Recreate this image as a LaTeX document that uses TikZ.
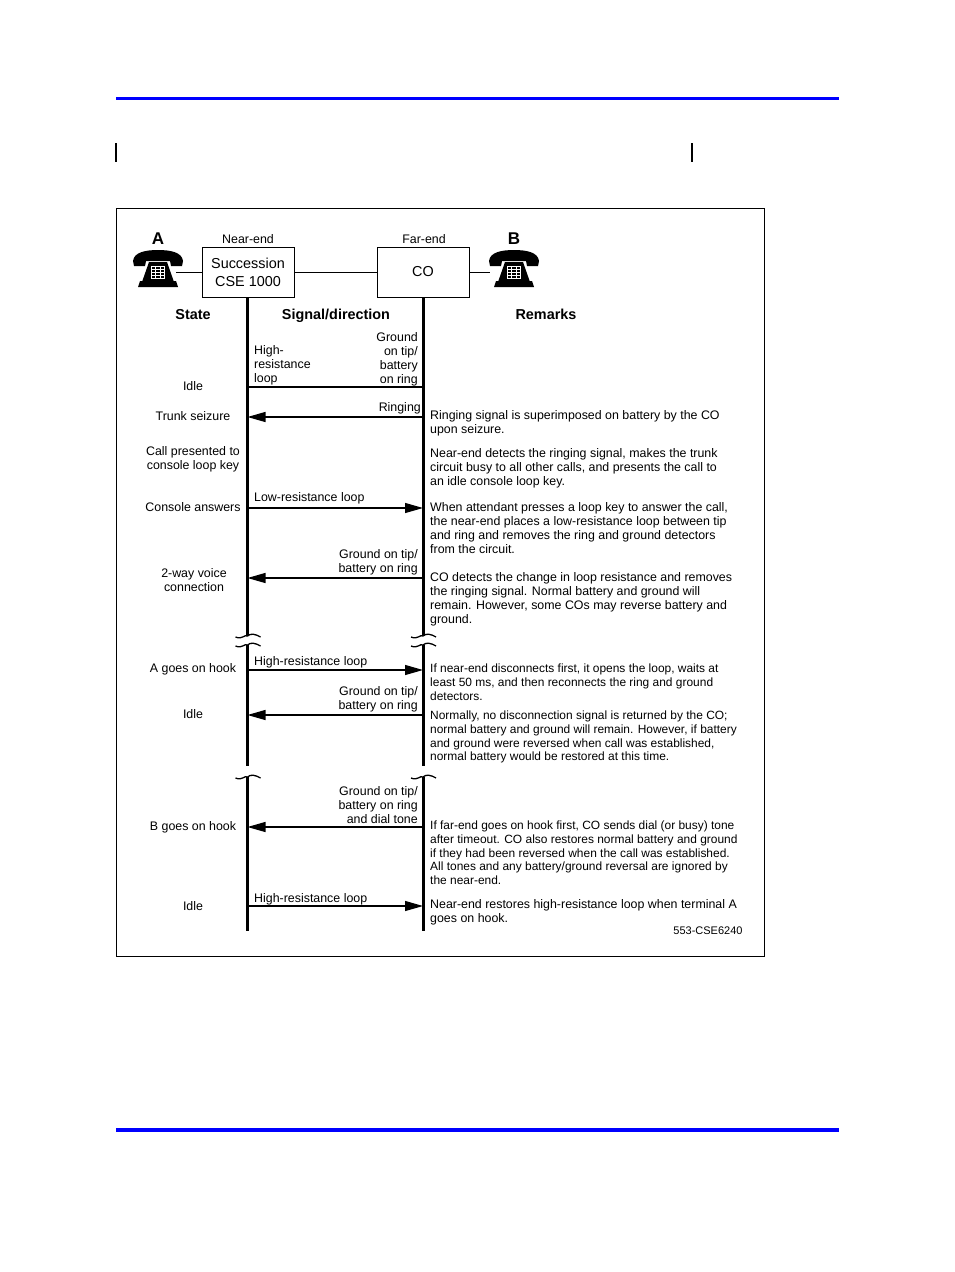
\documentclass[tikz,border=0pt]{standalone}
\usepackage{fontspec}
\setmainfont{Liberation Sans}
\usetikzlibrary{arrows.meta}
\usetikzlibrary{calc}
\usetikzlibrary{positioning}

\tikzset{
sigline/.style={line width=1.2pt, -{Triangle[length=18pt, width=10pt]}},
lifeline/.style={line width=3pt},
boxnode/.style={draw=black, line width=1pt, minimum width=92pt, minimum height=50pt, align=center, inner sep=0, font=\fontsize{14.4}{18}\selectfont},
txt/.style={align=left, inner sep=0, anchor=north west, yshift=-1.8pt, font=\fontsize{12.4}{13.72}\selectfont},
txtn/.style={txt, font=\fontsize{11.95}{13.72}\selectfont},
txtr/.style={align=right, inner sep=0, anchor=north east, yshift=-1.8pt, font=\fontsize{12.4}{13.72}\selectfont},
state/.style={align=center, inner sep=0, font=\fontsize{12.4}{13.72}\selectfont},
head/.style={inner sep=0, anchor=base, font=\bfseries\fontsize{14.4}{16}\selectfont},
wiggle/.style={line width=1.3pt},
pics/phone/.style={code={
    \fill (-25,-8) .. controls (-24,-17) and (-12,-19) .. (0,-19) .. controls (12,-19) and (24,-17) .. (25,-8) -- (24,-3) -- (13,-3) -- (12,-8) -- (-12,-8) -- (-13,-3) -- (-24,-3) -- cycle;
    \fill (-9,-7) -- (9,-7) -- (16,13) -- (-16,13) -- cycle;
    \fill (-18,12) -- (18,12) -- (20,18) -- (-20,18) -- cycle;
    \fill[white] (-7,-3) rectangle (7,10);
    \foreach \i in {0,1,2}{
        \foreach \j in {0,1,2,3}{
            \fill (-6+4.3*\i,-2+2.9*\j) rectangle ++(3.4,2.2);
        }
    }
}}
}

\begin{document}
\begin{tikzpicture}[x=1pt, y=-1pt]
\useasboundingbox[fill=white] (0,0) rectangle (954,1272);

% Page rules
\coordinate (topl) at (116,98.5);
\coordinate (topr) at (839,98.5);
\coordinate (botl) at (116,1130);
\coordinate (botr) at (839,1130);
\draw[blue, line width=3.5pt] (topl) -- (topr);
\draw[blue, line width=3.5pt] (botl) -- (botr);
\foreach \x/\v in {116/a,692/b}{
    \coordinate (bar\v t) at (\x,143);
    \coordinate (bar\v b) at (\x,162);
    \draw[line width=2pt] (bar\v t) -- (bar\v b);
}
\draw[line width=1pt] (116,208) rectangle (764,956);

% Boxes and phones
\node[boxnode] (cse) at (248,272) {Succession\\CSE 1000};
\node[boxnode] (co) at (423,272) {CO};
\pic at (158,269) {phone};
\pic at (514,269) {phone};
\coordinate (phonea) at (176,272);
\coordinate (phoneb) at (490,272);
\draw[line width=1pt] (phonea) -- (cse);
\draw[line width=1pt] (cse) -- (co);
\draw[line width=1pt] (co) -- (phoneb);
\node[inner sep=0, font=\bfseries\fontsize{17}{20}\selectfont] (laba) at (158,239) {A};
\node[inner sep=0, font=\bfseries\fontsize{17}{20}\selectfont] (labb) at (514,239) {B};
\node[state] (near) at (248,239) {Near-end};
\node[state] (far) at (424,239) {Far-end};

% Headings
\node[head] (hstate) at (193,319) {State};
\node[head] (hsignal) at (336,319) {Signal/direction};
\node[head] (hrem) at (546,319) {Remarks};

% Lifelines
\foreach \x/\v/\w in {247.5/a/cse,423/b/co}{
    \coordinate (\v1) at (\x,636);
    \coordinate (\v2) at (\x,645);
    \coordinate (\v3) at (\x,766);
    \coordinate (\v4) at (\x,777);
    \coordinate (\v5) at (\x,931);
    \draw[lifeline] (\w.south -| \v1) -- (\v1);
    \draw[lifeline] (\v2) -- (\v3);
    \draw[lifeline] (\v4) -- (\v5);
    \foreach \y in {1,2,4}{
        \draw[wiggle] ($(\v\y)+(-12,1)$) .. controls ($(\v\y)+(-5,4)$) and ($(\v\y)+(-3,-2)$) .. (\v\y) .. controls ($(\v\y)+(3,-3)$) and ($(\v\y)+(8,-2)$) .. ($(\v\y)+(13,1)$);
    }
}

% Signals
\foreach \y/\v in {387/idle,417/ring,508/ans,578/volt,670/hook,715/idl,827/bhook,906/last}{
    \coordinate (\v a) at (247.5,\y);
    \coordinate (\v b) at (423,\y);
}
\draw[line width=1.2pt] (idlea) -- (idleb);
\draw[sigline] (ringb) -- (ringa);
\draw[sigline] (ansa) -- (ansb);
\draw[sigline] (voltb) -- (volta);
\draw[sigline] (hooka) -- (hookb);
\draw[sigline] (idlb) -- (idla);
\draw[sigline] (bhookb) -- (bhooka);
\draw[sigline] (lasta) -- (lastb);

% State column
\node[state] (s1) at (193,386) {Idle};
\node[state] (s2) at (193,416) {Trunk seizure};
\node[state] (s3) at (193,459) {Call presented to\\console loop key};
\node[state] (s4) at (193,507) {Console answers};
\node[state] (s5) at (194,580) {2-way voice\\connection};
\node[state] (s6) at (193,669) {A goes on hook};
\node[state] (s7) at (193,714) {Idle};
\node[state] (s8) at (193,827) {B goes on hook};
\node[state] (s9) at (193,906) {Idle};

% Signal labels
\node[txt] (l1) at (254,344) {High-\\resistance\\loop};
\node[txtr] (l2) at (418,331) {Ground\\on tip/\\battery\\on ring};
\node[txtr] (l3) at (421,401) {Ringing};
\node[txt] (l4) at (254,491) {Low-resistance loop};
\node[txtr] (l5) at (418,548) {Ground on tip/\\battery on ring};
\node[txt] (l6) at (254,655) {High-resistance loop};
\node[txtr] (l7) at (418,685) {Ground on tip/\\battery on ring};
\node[txtr] (l8) at (418,785) {Ground on tip/\\battery on ring\\and dial tone};
\node[txt] (l9) at (254,892) {High-resistance loop};

% Remarks
\node[txt] (r1) at (430,409) {Ringing signal is superimposed on battery by the CO\\upon seizure.};
\node[txt] (r2) at (430,447) {Near-end detects the ringing signal, makes the trunk\\circuit busy to all other calls, and presents the call to\\an idle console loop key.};
\node[txt] (r3) at (430,501) {When attendant presses a loop key to answer the call,\\the near-end places a low-resistance loop between tip\\and ring and removes the ring and ground detectors\\from the circuit.};
\node[txt] (r4) at (430,571) {CO detects the change in loop resistance and removes\\the ringing signal. Normal battery and ground will\\remain. However, some COs may reverse battery and\\ground.};
\node[txtn] (r5) at (430,662) {If near-end disconnects first, it opens the loop, waits at\\least 50 ms, and then reconnects the ring and ground\\detectors.};
\node[txtn] (r6) at (430,709) {Normally, no disconnection signal is returned by the CO;\\normal battery and ground will remain. However, if battery\\and ground were reversed when call was established,\\normal battery would be restored at this time.};
\node[txtn] (r7) at (430,819) {If far-end goes on hook first, CO sends dial (or busy) tone\\after timeout. CO also restores normal battery and ground\\if they had been reversed when the call was established.\\All tones and any battery/ground reversal are ignored by\\the near-end.};
\node[txt] (r8) at (430,898) {Near-end restores high-resistance loop when terminal A\\goes on hook.};
\node[inner sep=0, font=\fontsize{11}{13}\selectfont] (fig) at (708,931) {553-CSE6240};
\end{tikzpicture}
\end{document}
